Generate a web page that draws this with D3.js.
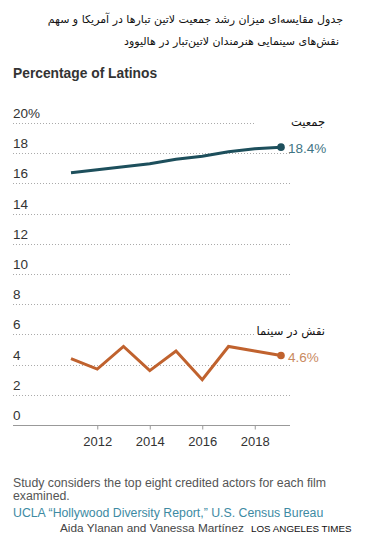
<!DOCTYPE html>
<html><head><meta charset="utf-8">
<script src="https://cdn.jsdelivr.net/npm/d3@7"></script>
<style>
body{margin:0;background:#fff;}
svg{display:block;}
</style></head>
<body><svg id="c" width="380" height="548"></svg>
<script>
const years = [2011,2012,2013,2014,2015,2016,2017,2018,2019];
const population = [16.7,16.9,17.1,17.3,17.6,17.8,18.1,18.3,18.4];
const filmRoles = [4.4,3.7,5.2,3.6,4.9,3.0,5.2,4.9,4.6];
const yTicks = [0,2,4,6,8,10,12,14,16,18,20];
const xTicks = [2012,2014,2016,2018];
const titleLines = ["جدول مقایسه‌ای میزان رشد جمعیت لاتین تبارها در آمریکا و سهم","نقش‌های سینمایی هنرمندان لاتین‌تبار در هالیوود"];
const seriesNames = ["جمعیت","نقش در سینما"];
const seriesLabels = ["18.4%","4.6%"];

const svg = d3.select("#c");
const x = d3.scaleLinear().domain([2011,2019]).range([71,281]);
const y = d3.scaleLinear().domain([0,20]).range([425,123]);
const LAT = "'Liberation Sans', Arial, sans-serif";
const FA = "'DejaVu Sans', sans-serif";

// title
svg.selectAll("text.t").data(titleLines).join("text").attr("class","t")
  .attr("x",(d,i)=>i===0?343:339).attr("y",(d,i)=>23+i*22)
  .attr("text-anchor","end")
  .style("font-family",FA).style("font-size","11px").attr("fill","#111")
  .text(d=>d);

svg.append("text").attr("x",13).attr("y",78)
  .style("font-family",LAT).style("font-size","13.8px").style("font-weight","bold")
  .attr("fill","#333").text("Percentage of Latinos");

// gridlines
const shortLines = [20,6];
svg.append("g").selectAll("line").data(yTicks.filter(d=>d>0)).join("line")
  .attr("x1",13).attr("x2",d=>shortLines.includes(d)?255:290)
  .attr("y1",d=>Math.round(y(d))+0.5).attr("y2",d=>Math.round(y(d))+0.5)
  .attr("stroke","#aaa").attr("stroke-width",1).attr("stroke-dasharray","1,2");

// y labels
svg.append("g").selectAll("text").data(yTicks).join("text")
  .attr("x",13).attr("y",d=>y(d)-5)
  .style("font-family",LAT).style("font-size","13.5px").attr("fill","#333")
  .text(d=>d===20?d+"%":d);

// x axis
const xa = svg.append("g").attr("transform","translate(0,425.5)")
  .call(d3.axisBottom(x).tickValues(xTicks).tickFormat(d3.format("d")).tickSizeInner(4).tickSizeOuter(0).tickPadding(7));
xa.select(".domain").remove();
xa.append("line").attr("x1",13).attr("x2",290).attr("stroke","#999");
xa.selectAll(".tick line").attr("stroke","#999");
xa.selectAll(".tick text").style("font-family",LAT).style("font-size","13px").attr("fill","#333");

// lines
const series = [
  {vals:population,color:"#1d4f5c",lab:"#3f7584"},
  {vals:filmRoles,color:"#c0622e",lab:"#c98a5f"}
];
const line = d3.line().x((d,i)=>x(years[i])).y(d=>y(d));
series.forEach((s,k)=>{
  svg.append("path").datum(s.vals).attr("d",line).attr("fill","none")
    .attr("stroke",s.color).attr("stroke-width",3).attr("stroke-linejoin","miter");
  const last = s.vals.length-1;
  svg.append("circle").attr("cx",x(years[last])).attr("cy",y(s.vals[last])).attr("r",3.8).attr("fill",s.color);
  svg.append("text").attr("x",x(years[last])+7).attr("y",y(s.vals[last])+6)
    .style("font-family",LAT).style("font-size","13.5px").attr("fill",s.lab).text(seriesLabels[k]);
  svg.append("text").attr("x",325).attr("y",y(s.vals[last])-21)
    .attr("text-anchor","end")
    .style("font-family",FA).style("font-size","11.5px").attr("fill","#111").text(seriesNames[k]);
});

// footer
const foot = svg.append("g").style("font-family",LAT);
foot.append("text").attr("x",13).attr("y",487).style("font-size","12.3px").attr("fill","#555")
  .text("Study considers the top eight credited actors for each film");
foot.append("text").attr("x",13).attr("y",500).style("font-size","12.3px").attr("fill","#555").text("examined.");
foot.append("text").attr("x",13).attr("y",517).style("font-size","12.3px").attr("fill","#3d8aa3")
  .text("UCLA “Hollywood Diversity Report,” U.S. Census Bureau");
foot.append("text").attr("x",60).attr("y",532).style("font-size","11.8px").attr("fill","#444")
  .text("Aida Ylanan and Vanessa Martínez");
foot.append("text").attr("x",251).attr("y",532).style("font-size","9.8px").attr("fill","#111")
  .text("LOS ANGELES TIMES");
</script></body></html>
